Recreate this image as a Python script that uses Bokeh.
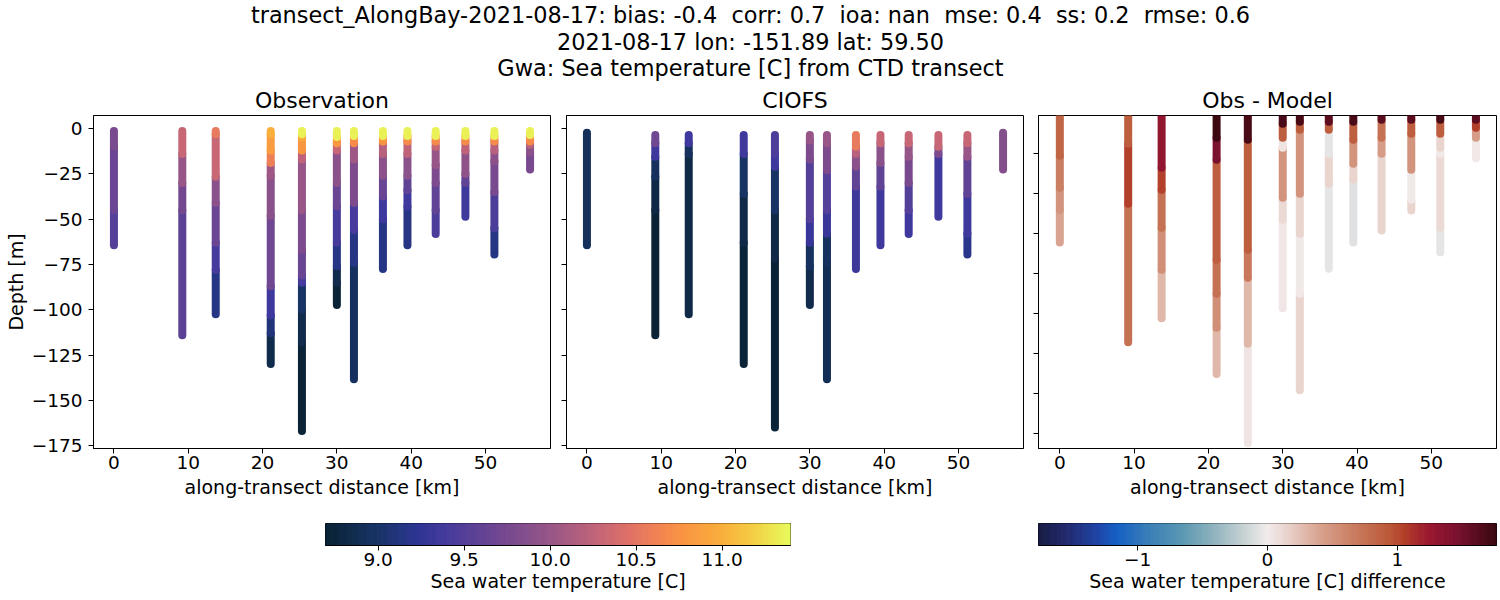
import numpy as np
from bokeh.plotting import figure
from bokeh.models import ColumnDataSource, Range1d, FixedTicker, CustomJSTickFormatter
from bokeh.layouts import row, column
from bokeh.transform import linear_cmap
from bokeh.core.properties import value
from bokeh.embed import file_html
from bokeh.resources import INLINE

FONT = "DejaVu Sans"

# ---------------- texts ----------------
suptitle_lines = [
    "transect_AlongBay-2021-08-17: bias: -0.4 \u00a0corr: 0.7 \u00a0ioa: nan \u00a0mse: 0.4 \u00a0ss: 0.2 \u00a0rmse: 0.6",
    "2021-08-17 lon: -151.89 lat: 59.50",
    "Gwa: Sea temperature [C] from CTD transect",
]
panel_titles = ["Observation", "CIOFS", "Obs - Model"]
x_label = "along-transect distance [km]"
y_label = "Depth [m]"
cb_labels = ["Sea water temperature [C]", "Sea water temperature [C] difference"]

# ---------------- data ----------------
stations_km = [0.0, 9.2, 13.7, 21.1, 25.3, 30.0, 32.3, 36.2, 39.5, 43.3, 47.3, 51.2, 56.0]

# bottom depth (m) of each cast
obs_bottom_m = [64.3, 114.1, 102.4, 130.0, 166.9, 97.3, 138.3, 77.5, 64.3, 58.2, 48.6, 69.5, 22.5]
model_bottom_m = [64.3, 114.0, 102.4, 130.0, 165.0, 97.3, 138.3, 77.5, 64.3, 58.2, 48.6, 69.5, 22.5]
diff_bottom_m = [64.3, 114.2, 102.2, 130.0, 164.7, 97.2, 138.2, 77.5, 64.3, 58.3, 48.3, 69.3, 22.3]

# observed temperature: depth (m) where each layer starts, and its temperature (C)
obs_layer_top = [
    [1.2, 10, 45],
    [1.2, 14, 30, 45],
    [1.2, 3, 26.5, 41, 63, 78],
    [1.2, 3, 12, 19, 26, 48, 87, 103, 113],
    [1.2, 3, 5, 12, 17, 45, 67, 81, 85, 100, 118],
    [1.2, 4.6, 8, 12, 30, 43, 63, 76, 85],
    [1.2, 4, 8, 17, 41, 56, 74],
    [1.2, 4, 7, 14, 26, 37.5, 50],
    [1.2, 4, 7, 14, 26, 34, 43],
    [1.2, 4, 7, 10, 20, 30, 45],
    [1.2, 4, 7, 12, 25, 30],
    [1.2, 4, 7, 12, 18, 35, 55],
    [1.2, 3.5, 7, 9, 13],
]
obs_temp = [
    [9.78, 9.65, 9.5],
    [10.3, 10.0, 9.72, 9.55],
    [10.55, 10.3, 9.9, 9.65, 9.4, 9.15],
    [11.0, 10.85, 10.6, 10.05, 9.9, 9.7, 9.35, 9.1, 8.85],
    [11.35, 10.95, 10.8, 10.25, 10.0, 9.8, 9.65, 9.4, 9.0, 8.85, 8.72],
    [11.35, 10.8, 10.3, 9.9, 9.65, 9.4, 9.15, 8.85, 8.72],
    [11.35, 10.7, 10.05, 9.8, 9.4, 9.15, 8.95],
    [11.35, 10.8, 10.2, 9.9, 9.65, 9.35, 9.15],
    [11.35, 10.7, 10.25, 9.9, 9.6, 9.35, 9.15],
    [11.35, 10.7, 10.3, 10.0, 9.8, 9.6, 9.45],
    [11.35, 10.7, 10.25, 9.95, 9.6, 9.35],
    [11.35, 10.7, 10.2, 9.9, 9.75, 9.45, 9.15],
    [11.35, 10.7, 10.2, 9.9, 9.75],
]

# CIOFS model temperature
model_layer_top = [
    [2.2],
    [3.5, 8, 15.5, 26.5, 45],
    [3.5, 8, 14],
    [3.5, 14, 36, 63],
    [3.5, 14, 21, 45, 72],
    [3.5, 6.5, 17, 50, 63, 76],
    [3.5, 8, 23, 45, 58, 74],
    [3.5, 10, 14, 21, 32],
    [3.5, 8, 19, 32],
    [3.5, 8, 15.5, 30, 45],
    [3.5, 10, 14],
    [3.5, 8, 15.5, 36, 58],
    [2.2],
]
model_temp = [
    [8.93],
    [9.7, 9.35, 8.95, 8.8, 8.72],
    [9.35, 8.95, 8.82],
    [9.35, 9.0, 8.82, 8.72],
    [9.45, 9.35, 9.0, 8.82, 8.72],
    [10.0, 9.8, 9.5, 9.3, 8.95, 8.85],
    [10.0, 9.8, 9.5, 9.3, 8.95, 8.9],
    [10.55, 10.2, 9.9, 9.6, 9.32],
    [10.3, 9.9, 9.6, 9.35],
    [10.3, 10.0, 9.75, 9.5, 9.35],
    [10.3, 9.8, 9.35],
    [10.3, 10.0, 9.6, 9.35, 9.2],
    [9.85],
]

# Obs - Model difference
diff_layer_top = [
    [1.2, 21, 37, 48],
    [1.2, 15, 45],
    [1.2, 27, 38, 57, 78],
    [1.2, 12, 23, 73, 90, 107],
    [1.2, 13, 68, 82, 115],
    [1.2, 5, 12, 17, 42, 53],
    [1.2, 4, 8, 40, 60, 90],
    [1.2, 4, 8, 20, 35],
    [1.2, 4, 13, 25, 33],
    [1.2, 3, 12, 20],
    [1.2, 3, 10, 28, 43],
    [1.2, 3, 10, 17, 20, 57],
    [1.2, 3, 7, 12],
]
diff_temp = [
    [0.85, 0.65, 0.5, 0.4],
    [0.9, 1.05, 0.75],
    [1.3, 1.05, 0.75, 0.55, 0.3],
    [1.75, 1.45, 0.9, 0.75, 0.55, 0.3],
    [1.7, 0.9, 0.7, 0.3, 0.05],
    [1.7, 0.9, 0.05, 0.5, 0.12, 0.03],
    [1.7, 0.9, 0.5, 0.15, 0.02, 0.15],
    [1.6, 0.9, -0.05, 0.15, -0.05],
    [1.7, 0.9, 0.5, 0.15, -0.08],
    [1.6, 0.75, 0.45, 0.15],
    [1.6, 0.9, 0.5, 0.02, 0.15],
    [1.7, 0.9, 0.15, 0.02, 0.12, -0.05],
    [1.6, 1.05, 0.45, 0.02],
]

temp_lims = (8.694, 11.397)
diff_lims = (-1.762, 1.762)
depth_ticks = [0, -25, -50, -75, -100, -125, -150, -175]
diff_depth_ticks = [-20, -40, -60, -80, -100, -120, -140, -160]
dist_ticks = [0, 10, 20, 30, 40, 50]
temp_cb_ticks = [9.0, 9.5, 10.0, 10.5, 11.0]
diff_cb_ticks = [-1, 0, 1]

# ---------------- colormaps (cmocean thermal / balance look-alikes) ----------------
thermal_stops = [
    (0.00, "#0a2234"), (0.11, "#183465"), (0.20, "#2e3594"), (0.25, "#433a9e"),
    (0.32, "#5c4196"), (0.39, "#77498f"), (0.485, "#985687"), (0.58, "#c0647a"),
    (0.65, "#de7068"), (0.72, "#f28452"), (0.77, "#f99442"), (0.85, "#f9ad3c"),
    (0.91, "#f5c741"), (1.00, "#e8fa5b"),
]
balance_stops = [
    (0.00, "#181c43"), (0.06, "#232a6e"), (0.13, "#1f45a8"), (0.17, "#1560c4"),
    (0.24, "#3a7fb7"), (0.31, "#5896b3"), (0.38, "#8db2bd"), (0.45, "#c8d2d4"),
    (0.50, "#f1ecec"), (0.55, "#e8cfc7"), (0.62, "#d7a08c"), (0.69, "#c97d60"),
    (0.77, "#bb5838"), (0.80, "#b2402a"), (0.855, "#9a1830"), (0.91, "#7e1230"),
    (1.00, "#3c0912"),
]


def make_palette(stops, n=256):
    pos = np.array([s[0] for s in stops])
    rgb = np.array([[int(s[1][i:i + 2], 16) for i in (1, 3, 5)] for s in stops], float)
    t = np.linspace(0, 1, n)
    cols = np.stack([np.interp(t, pos, rgb[:, k]) for k in range(3)], axis=1)
    return ["#%02x%02x%02x" % tuple(int(round(c)) for c in cc) for cc in cols]


thermal = make_palette(thermal_stops)
balance = make_palette(balance_stops)


def layer_source(layer_tops, vals, bottoms):
    x, y0, y1, v = [], [], [], []
    for xi, tops, vs, bot in zip(stations_km, layer_tops, vals, bottoms):
        ends = list(tops[1:]) + [bot]
        for t, e, val in zip(tops, ends, vs):
            x.append(xi)
            y0.append(-t)
            y1.append(-e)
            v.append(val)
    # draw deepest layers first so shallower (surface) layers stay on top
    order = np.argsort(y0, kind="stable")
    return ColumnDataSource(dict(x=np.array(x)[order], y0=np.array(y0)[order],
                                 y1=np.array(y1)[order], v=np.array(v)[order]))


def minus_fmt():
    return CustomJSTickFormatter(code="return tick.toString().replace('-', '\\u2212');")


def blank_fmt():
    return CustomJSTickFormatter(code="return '';")


TICK_FS = "18.5px"
LABEL_FS = "19px"


def style_axis(ax):
    ax.major_label_text_font = FONT
    ax.major_label_text_font_size = TICK_FS
    ax.major_label_text_color = "black"
    ax.axis_label_text_font = FONT
    ax.axis_label_text_font_size = LABEL_FS
    ax.axis_label_text_font_style = "normal"
    ax.axis_label_text_color = "black"
    ax.major_tick_out = 5
    ax.major_tick_in = 0
    ax.minor_tick_out = 0
    ax.minor_tick_in = 0
    ax.major_tick_line_color = "black"
    ax.axis_line_color = "black"


def panel(src, palette, lims, xr, yr, width, mbl, mbr, yticks, ylabels):
    p = figure(width=width, height=393, x_range=xr, y_range=yr,
               output_backend="svg", toolbar_location=None,
               min_border_left=mbl, min_border_right=mbr,
               min_border_top=2, min_border_bottom=58)
    p.grid.visible = False
    p.outline_line_color = "black"
    p.outline_line_width = 1
    p.segment(x0="x", y0="y0", x1="x", y1="y1", source=src,
              line_color=linear_cmap("v", palette, lims[0], lims[1]),
              line_width=8, line_cap="round")
    style_axis(p.xaxis[0])
    style_axis(p.yaxis[0])
    p.xaxis.ticker = FixedTicker(ticks=dist_ticks)
    p.xaxis.formatter = minus_fmt()
    p.xaxis.axis_label = x_label
    p.xaxis.major_label_standoff = 2
    p.xaxis.axis_label_standoff = 4
    p.yaxis.ticker = FixedTicker(ticks=yticks)
    if ylabels:
        p.yaxis.formatter = minus_fmt()
        p.yaxis.axis_label = y_label
        p.yaxis.major_label_standoff = 6
        p.yaxis.axis_label_standoff = 2
    else:
        p.yaxis.formatter = blank_fmt()
        p.yaxis.major_label_standoff = 0
    return p


depth_range = Range1d(-176.6, 7.3)
p1 = panel(layer_source(obs_layer_top, obs_temp, obs_bottom_m), thermal, temp_lims,
           Range1d(-2.75, 58.75), depth_range, 558, 93, 8, depth_ticks, True)
p2 = panel(layer_source(model_layer_top, model_temp, model_bottom_m), thermal, temp_lims,
           Range1d(-2.75, 58.75), depth_range, 472, 8, 7, depth_ticks, False)
p3 = panel(layer_source(diff_layer_top, diff_temp, diff_bottom_m), balance, diff_lims,
           Range1d(-2.87, 58.77), Range1d(-167.3, -0.85), 470, 8, 4, diff_depth_ticks, False)

# ---------------- title strip ----------------
tf = figure(width=1500, height=113, x_range=Range1d(0, 1500), y_range=Range1d(113, 0),
            output_backend="svg", toolbar_location=None, min_border=0,
            x_axis_location=None, y_axis_location=None)
tf.grid.visible = False
tf.outline_line_color = None
tf.text(x=[750, 750, 750], y=[14.5, 41, 67.5], text=suptitle_lines,
        text_font=value(FONT), text_font_size=value("22.4px"),
        text_align="center", text_baseline="alphabetic", text_color="black")
tf.text(x=[321.5, 794.5, 1267], y=[99.5, 99.5, 99.5], text=panel_titles,
        text_font=value(FONT), text_font_size=value("22px"),
        text_align="center", text_baseline="alphabetic", text_color="black")


# ---------------- colorbars ----------------
def cbar(palette, lims, xr, width, mbl, mbr, ticks, fmt, label):
    edges = np.linspace(lims[0], lims[1], len(palette) + 1)
    p = figure(width=width, height=94, x_range=xr, y_range=Range1d(0, 1),
               output_backend="svg", toolbar_location=None,
               min_border_left=mbl, min_border_right=mbr,
               min_border_top=17, min_border_bottom=55, y_axis_location=None)
    p.grid.visible = False
    p.quad(left=edges[:-1], right=edges[1:], bottom=0, top=1,
           fill_color=palette, line_color=palette, line_width=1)
    p.outline_line_color = "black"
    p.outline_line_width = 1
    style_axis(p.xaxis[0])
    p.xaxis.ticker = FixedTicker(ticks=ticks)
    p.xaxis.formatter = fmt
    p.xaxis.axis_label = label
    p.xaxis.major_label_standoff = 2
    p.xaxis.axis_label_standoff = 1
    return p


cb1 = cbar(thermal, temp_lims, Range1d(*temp_lims), 1030, 325, 240, temp_cb_ticks,
           CustomJSTickFormatter(code="return tick.toFixed(1);"), cb_labels[0])
cb2 = cbar(balance, diff_lims, Range1d(*diff_lims), 470, 8, 4, diff_cb_ticks,
           minus_fmt(), cb_labels[1])

layout = column(tf, row(p1, p2, p3), row(cb1, cb2))

open("out.html", "w").write(file_html(layout, INLINE))
